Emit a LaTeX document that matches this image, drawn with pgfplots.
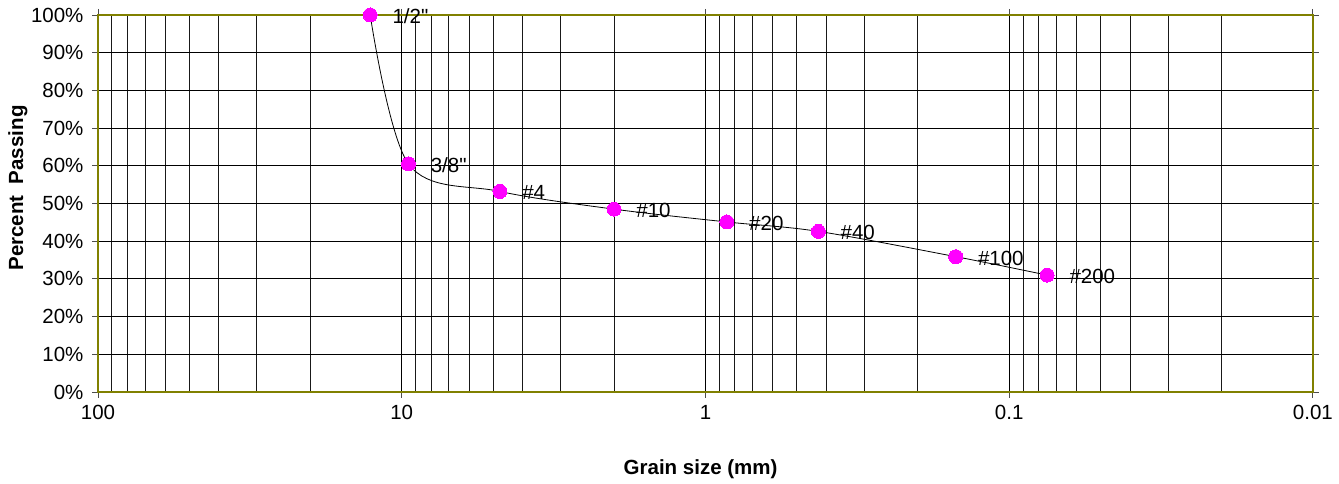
\documentclass[border=0pt]{standalone}
\usepackage{pgfplots}
\pgfplotsset{compat=1.18}
\usepackage{fontspec}
\setmainfont{Liberation Sans}
\newfontfamily\lblfont{Liberation Sans}
\definecolor{frameolive}{HTML}{808000}
\definecolor{pinkmag}{HTML}{FF00FF}
\begin{document}
\begin{tikzpicture}
\begin{axis}[
  at={(0pt,0pt)}, anchor=south west,
  scale only axis, width=1215pt, height=377pt,
  xmode=log, x dir=reverse, xmin=0.01, xmax=100,
  ymin=0, ymax=100,
  /pgf/number format/assume math mode=true,
  ytick={0,10,...,100},
  yticklabel={\pgfmathprintnumber{\tick}\%},
  xtick={0.01,0.1,1,10,100},
  xticklabels={0.01,0.1,1,10,100},
  minor xtick={0.02,0.03,0.04,0.05,0.06,0.07,0.08,0.09,0.2,0.3,0.4,0.5,0.6,0.7,0.8,0.9,2,3,4,5,6,7,8,9,20,30,40,50,60,70,80,90},
  grid=both,
  major grid style={black, line width=1pt},
  minor grid style={black!90, line width=1pt},
  axis line style={draw=frameolive, line width=2pt},
  tick align=outside,
  major tick length=6pt, minor tick length=0pt,
  tick style={black!70, line width=0.9pt},
  ticklabel style={font=\fontsize{20.5}{24}\selectfont},
  xticklabel style={yshift=-4pt},
  yticklabel style={xshift=-5pt},
  xlabel={Grain size (mm)},
  ylabel={Percent\ \ Passing},
  every axis x label/.style={at={(axis description cs:0.496,-0.204)}, anchor=center, font=\bfseries\fontsize{20.5}{24}\selectfont},
  every axis y label/.style={at={(axis description cs:-0.066,0.541)}, rotate=90, anchor=center, font=\bfseries\fontsize{20.5}{24}\selectfont},
  clip=false,
]
\addplot[black, line width=0.8pt, smooth, tension=0.55,
  mark=*, mark size=7pt, mark options={draw=pinkmag, fill=pinkmag, line width=0pt},
  nodes near coords, point meta=explicit symbolic,
  every node near coord/.style={anchor=west, xshift=19pt, yshift=-1.5pt, font=\lblfont\fontsize{20.5}{24}\selectfont, text=black}]
coordinates {
  (12.7,100) [1/2"]
  (9.5,60.5) [3/8"]
  (4.75,53.2) [\#4]
  (2.0,48.5) [\#10]
  (0.85,45.1) [\#20]
  (0.425,42.6) [\#40]
  (0.15,35.9) [\#100]
  (0.075,31.0) [\#200]
};
\end{axis}
\pgfresetboundingbox
\path[use as bounding box] (-98pt,-92pt) rectangle (1241pt,392pt);
\end{tikzpicture}
\end{document}
